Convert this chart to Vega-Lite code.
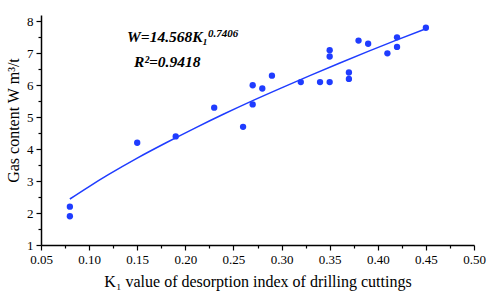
{
  "$schema": "https://vega.github.io/schema/vega-lite/v6.json",
  "width": 433,
  "height": 230,
  "autosize": {"type": "none"},
  "padding": {"left": 41, "top": 15, "right": 17, "bottom": 56},
  "background": "white",
  "config": {"view": {"stroke": null}, "font": "Liberation Serif"},
  "datasets": {
    "pts": [
      {"k1": 0.08, "w": 2.2}, {"k1": 0.08, "w": 1.9}, {"k1": 0.15, "w": 4.2},
      {"k1": 0.19, "w": 4.4}, {"k1": 0.23, "w": 5.3}, {"k1": 0.26, "w": 4.7},
      {"k1": 0.27, "w": 6.0}, {"k1": 0.27, "w": 5.4}, {"k1": 0.28, "w": 5.9},
      {"k1": 0.29, "w": 6.3}, {"k1": 0.32, "w": 6.1}, {"k1": 0.34, "w": 6.1},
      {"k1": 0.35, "w": 7.1}, {"k1": 0.35, "w": 6.9}, {"k1": 0.35, "w": 6.1},
      {"k1": 0.37, "w": 6.4}, {"k1": 0.37, "w": 6.2}, {"k1": 0.38, "w": 7.4},
      {"k1": 0.39, "w": 7.3}, {"k1": 0.41, "w": 7.0}, {"k1": 0.42, "w": 7.5},
      {"k1": 0.42, "w": 7.2}, {"k1": 0.45, "w": 7.8}
    ],
    "curve": [
      {"k1": 0.08, "w": 2.44}, {"k1": 0.10, "w": 2.83}, {"k1": 0.12, "w": 3.2},
      {"k1": 0.15, "w": 3.72}, {"k1": 0.18, "w": 4.2}, {"k1": 0.21, "w": 4.66},
      {"k1": 0.24, "w": 5.1}, {"k1": 0.27, "w": 5.52}, {"k1": 0.30, "w": 5.92},
      {"k1": 0.33, "w": 6.31}, {"k1": 0.36, "w": 6.69}, {"k1": 0.39, "w": 7.06},
      {"k1": 0.42, "w": 7.42}, {"k1": 0.45, "w": 7.77}
    ],
    "big": [
      {"label": "W=14.568K₁", "k1": 0.1394, "w": 7.35},
      {"label": "R²=0.9418", "k1": 0.1467, "w": 6.57}
    ],
    "small": [
      {"label": "0.7406", "k1": 0.2236, "w": 7.52}
    ]
  },
  "layer": [
    {
      "data": {"name": "pts"},
      "mark": {"type": "point", "filled": true, "size": 40, "color": "#1f3cff", "opacity": 1},
      "encoding": {
        "x": {
          "field": "k1", "type": "quantitative",
          "scale": {"domain": [0.05, 0.5], "nice": false, "zero": false},
          "axis": {
            "title": "K₁ value of desorption index of drilling cuttings",
            "titleFont": "Liberation Serif", "titleFontSize": 16, "titleFontWeight": "normal", "titleColor": "black",
            "titlePadding": 7,
            "tickCount": 100,
            "values": [0.05, 0.075, 0.1, 0.125, 0.15, 0.175, 0.2, 0.225, 0.25, 0.275, 0.3, 0.325, 0.35, 0.375, 0.4, 0.425, 0.45, 0.475, 0.5],
            "labelExpr": "abs(round(datum.value*20) - datum.value*20) < 0.000001 ? format(datum.value, '.2f') : ''",
            "tickSize": {"condition": {"test": "abs(round(datum.value*20) - datum.value*20) < 0.000001", "value": 5}, "value": 3},
            "labelFont": "Liberation Serif", "labelFontSize": 13, "labelColor": "black",
            "labelPadding": 3, "labelOverlap": false, "labelFlush": false, "labelBound": false,
            "domainColor": "black", "domainWidth": 1.5, "tickColor": "black", "tickWidth": 1.2,
            "grid": false
          }
        },
        "y": {
          "field": "w", "type": "quantitative",
          "scale": {"domain": [1, 8.2], "nice": false, "zero": false},
          "axis": {
            "title": "Gas content W m³/t",
            "titleFont": "Liberation Serif", "titleFontSize": 16, "titleFontWeight": "normal", "titleColor": "black",
            "titlePadding": 5, "titleY": 105,
            "tickCount": 100,
            "values": [1, 1.5, 2, 2.5, 3, 3.5, 4, 4.5, 5, 5.5, 6, 6.5, 7, 7.5, 8],
            "labelExpr": "abs(round(datum.value) - datum.value) < 0.000001 ? '' + round(datum.value) : ''",
            "tickSize": {"condition": {"test": "abs(round(datum.value) - datum.value) < 0.000001", "value": 5}, "value": 3},
            "labelFont": "Liberation Serif", "labelFontSize": 13, "labelColor": "black",
            "labelPadding": 3, "labelOverlap": false, "labelFlush": false, "labelBound": false,
            "domainColor": "black", "domainWidth": 1.5, "tickColor": "black", "tickWidth": 1.2,
            "grid": false
          }
        }
      }
    },
    {
      "data": {"name": "curve"},
      "mark": {"type": "line", "color": "#1f3cff", "strokeWidth": 1.5, "interpolate": "monotone"},
      "encoding": {
        "x": {"field": "k1", "type": "quantitative"},
        "y": {"field": "w", "type": "quantitative"}
      }
    },
    {
      "data": {"name": "big"},
      "mark": {"type": "text", "align": "left", "baseline": "alphabetic", "font": "Liberation Serif", "fontSize": 15.5, "fontStyle": "italic", "fontWeight": "bold", "color": "black"},
      "encoding": {
        "x": {"field": "k1", "type": "quantitative"},
        "y": {"field": "w", "type": "quantitative"},
        "text": {"field": "label"}
      }
    },
    {
      "data": {"name": "small"},
      "mark": {"type": "text", "align": "left", "baseline": "alphabetic", "font": "Liberation Serif", "fontSize": 11, "fontStyle": "italic", "fontWeight": "bold", "color": "black"},
      "encoding": {
        "x": {"field": "k1", "type": "quantitative"},
        "y": {"field": "w", "type": "quantitative"},
        "text": {"field": "label"}
      }
    }
  ]
}
